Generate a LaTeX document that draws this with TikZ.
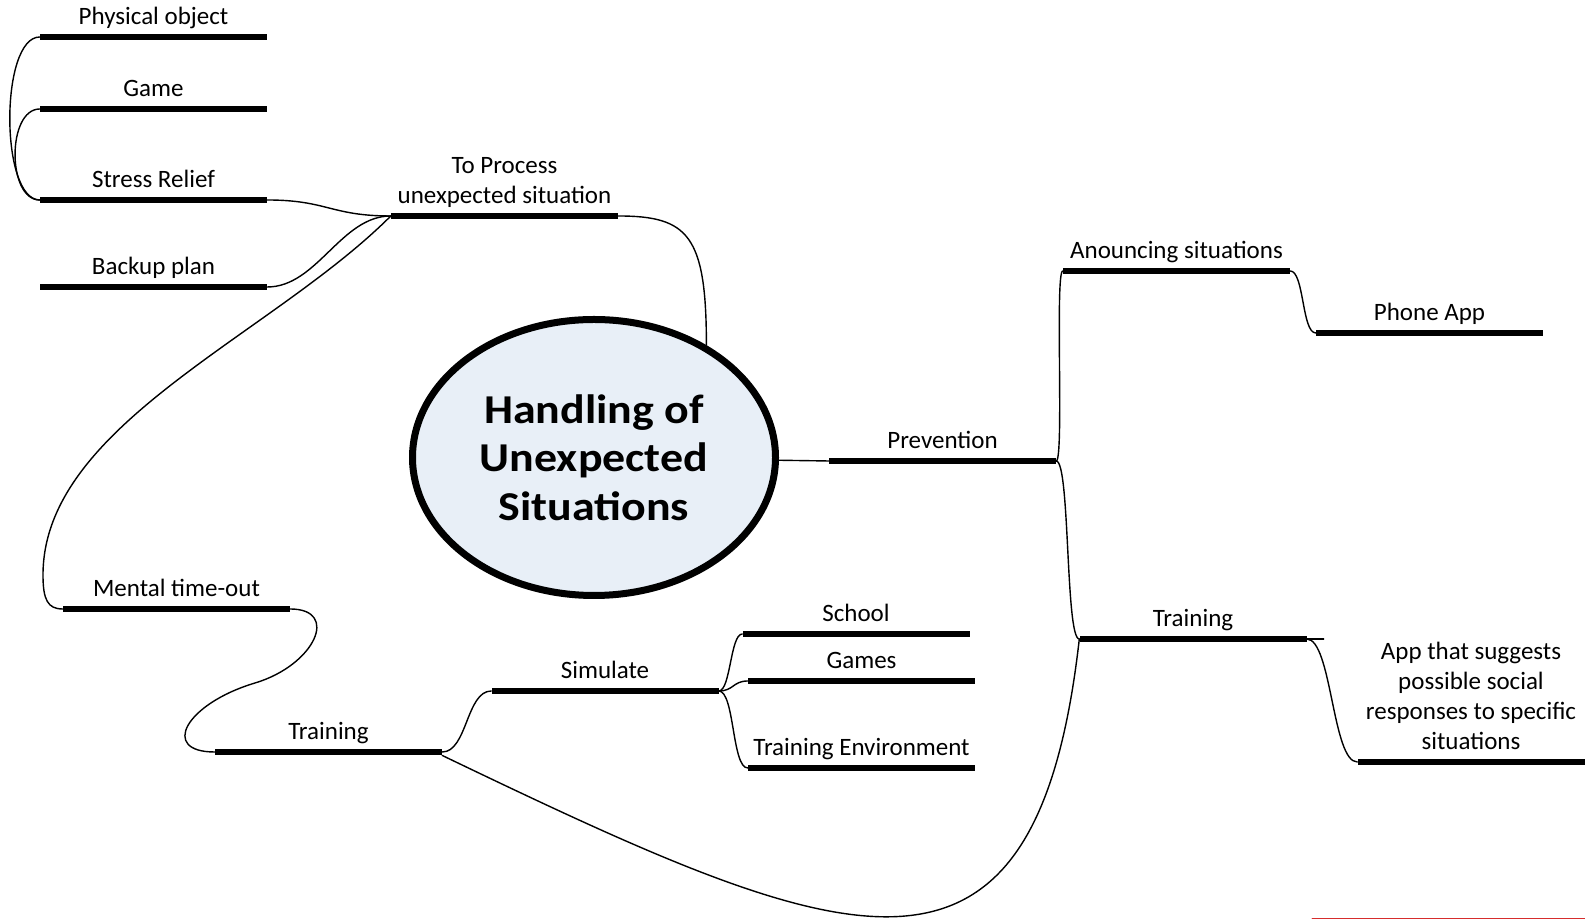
\documentclass[tikz,border=0pt]{standalone}
\usepackage{fontspec}
\setmainfont{Carlito}
\newfontfamily\hubfont[FakeStretch=1.12]{Carlito}
\usetikzlibrary{positioning,shapes.geometric}
\definecolor{hubfill}{RGB}{232,239,247}
\definecolor{markred}{RGB}{214,45,45}
\begin{document}
\begin{tikzpicture}[x=1pt,y=1pt,line join=round,line cap=round]
	\tikzset{bar/.style={fill=black,inner sep=0pt,minimum width=227pt,minimum height=6.5pt},
		lbl/.style={inner sep=0pt,text depth=0pt,font=\fontsize{25}{30}\selectfont},
		lblm/.style={inner sep=0pt,align=center,font=\fontsize{25}{30}\selectfont},
		link/.style={line width=1.4pt},
		hub/.style={ellipse,draw,line width=7pt,fill=hubfill,minimum width=363pt,minimum height=276pt,
			inner sep=0pt,align=center,font=\hubfont\bfseries\fontsize{41}{48.5}\selectfont}}
	\useasboundingbox (0,0) rectangle (1585,920);
	\node[hub] (hub) at (594,462.5) {Handling of\\Unexpected\\Situations};
	\node[bar] (proc) at (504.5,704) {};
	\node[bar] (phys) at (153.5,883) {};
	\node[bar] (game) at (153.5,811) {};
	\node[bar] (stress) at (153.5,720) {};
	\node[bar] (backup) at (153.5,633) {};
	\node[bar] (mental) at (176.5,311) {};
	\node[bar] (trainL) at (328.5,168) {};
	\node[bar] (sim) at (605,229) {};
	\node[bar] (school) at (856,286) {};
	\node[bar] (games) at (861.5,239) {};
	\node[bar] (tenv) at (861.5,152) {};
	\node[bar] (prev) at (942.5,459) {};
	\node[bar] (anounce) at (1176.5,649) {};
	\node[bar] (phone) at (1429.5,587) {};
	\node[bar] (trainR) at (1193,281) {};
	\node[bar] (app) at (1471,158) {};
	\node[lbl,above=8.5pt of phys] (physT) {Physical object};
	\node[lbl,above=8.5pt of game] (gameT) {Game};
	\node[lbl,above=8.5pt of stress] (stressT) {Stress Relief};
	\node[lbl,above=8.5pt of backup] (backupT) {Backup plan};
	\node[lblm,above=5pt of proc] (procT) {To Process\\unexpected situation};
	\node[lbl,above=8.5pt of mental] (mentalT) {Mental time-out};
	\node[lbl,above=8.5pt of trainL] (trainLT) {Training};
	\node[lbl,above=8.5pt of sim] (simT) {Simulate};
	\node[lbl,above=8.5pt of school] (schoolT) {School};
	\node[lbl,above=8.5pt of games] (gamesT) {Games};
	\node[lbl,above=8.5pt of tenv] (tenvT) {Training Environment};
	\node[lbl,above=8.5pt of prev] (prevT) {Prevention};
	\node[lbl,above=8.5pt of anounce] (anounceT) {Anouncing situations};
	\node[lbl,above=8.5pt of phone] (phoneT) {Phone App};
	\node[lbl,above=8.5pt of trainR] (trainRT) {Training};
	\node[lblm,above=8.5pt of app] (appT) {App that suggests\\possible social\\responses to specific\\situations};
	\coordinate (bendM) at (43,345);
	\coordinate (bendT) at (255,237);
	\coordinate (stub) at ([xshift=17pt]trainR.east);
	\draw[link] (stress.west) .. controls +(-40,0) and +(-40,0) .. (phys.west);
	\draw[link] (stress.west) .. controls +(-33,0) and +(-33,0) .. (game.west);
	\draw[link] (proc.west) .. controls +(-60,0) and +(60,0) .. (stress.east);
	\draw[link] (proc.west) .. controls +(-50,0) and +(50,0) .. (backup.east);
	\draw[link] (proc.west) .. controls +(-120,-120) and +(0,150) .. (bendM) .. controls +(0,-25) and +(-15,0) .. (mental.west);
	\draw[link] (hub.45) .. controls +(0,110) and +(70,0) .. (proc.east);
	\draw[link] (hub) -- (prev.west);
	\draw[link] (mental.east) .. controls +(50,0) and +(60,18) .. (bendT) .. controls +(-70,-21) and +(-55,0) .. (trainL.west);
	\draw[link] (trainL.east) .. controls +(25,0) and +(-25,0) .. (sim.west);
	\draw[link] (trainL.south east) .. controls +(406,-195) and +(-44,-390) .. (trainR.west);
	\draw[link] (sim.east) .. controls +(12,0) and +(-12,0) .. (school.west);
	\draw[link] (sim.east) .. controls +(15,0) and +(-15,0) .. (games.west);
	\draw[link] (sim.east) .. controls +(16,0) and +(-16,0) .. (tenv.west);
	\draw[link] (prev.east) .. controls +(8,0) and +(-8,0) .. (anounce.west);
	\draw[link] (prev.east) .. controls +(14,0) and +(-14,0) .. (trainR.west);
	\draw[link] (anounce.east) .. controls +(14,0) and +(-14,0) .. (phone.west);
	\draw[link] (trainR.east) .. controls +(25,0) and +(-25,0) .. (app.west);
	\draw[link] (trainR.east) -- (stub);
	\draw[markred,line width=1pt] (1312,1) -- (1585,1);
\end{tikzpicture}
\end{document}
